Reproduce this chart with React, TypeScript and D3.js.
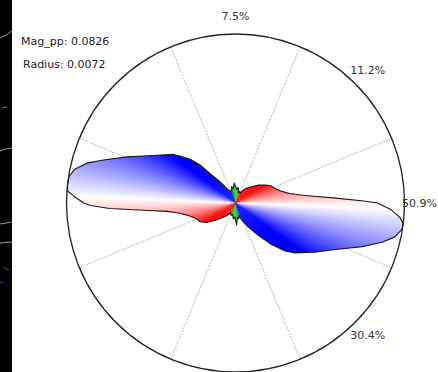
import React from 'react';
import * as d3 from 'd3';

// Polar outline: orientation angle (deg, counter-clockwise from +x) and radius (% of max)
const angleDeg = [0, 1, 3, 5, 7, 10, 14, 20, 25, 31, 38, 45, 52, 59, 65, 70, 74, 80, 84, 90, 94, 98, 103, 108, 113, 119, 126, 131, 133, 136, 140, 142, 150, 157, 162, 165, 168, 171, 174, 176, 177.5, 180, 181, 182.5, 184.5, 187, 190, 194, 202, 208, 214, 222, 235, 243, 250, 256, 262, 266, 270, 273, 277, 282, 286, 290, 298, 305, 311, 316, 320, 328, 335, 341, 345, 348, 351, 353, 355, 357.5];
const radiusPct = [84.0, 74.6, 58.0, 46.2, 39.1, 32.5, 28.4, 24.9, 23.7, 20.7, 17.2, 13.6, 11.2, 8.9, 6.5, 7.4, 6.2, 9.5, 8.0, 10.0, 11.8, 8.6, 10.0, 7.6, 7.7, 8.9, 15.4, 23.1, 30.8, 37.3, 43.2, 46.7, 56.2, 69.8, 82.2, 91.1, 97.0, 99.8, 100.0, 99.5, 95.9, 89.9, 85.8, 74.6, 54.4, 40.8, 34.3, 29.6, 24.9, 23.7, 20.7, 14.8, 9.2, 6.5, 7.7, 7.0, 9.5, 8.2, 10.0, 13.0, 8.8, 9.5, 7.7, 10.7, 16.0, 23.1, 32.5, 40.8, 45.9, 55.0, 65.1, 79.3, 89.9, 96.4, 99.7, 100.0, 97.6, 92.3];

// Sector percentage labels
const sectorAngles = [90, 45, 0, -45];
const sectorLabels = ['7.5%', '11.2%', '50.9%', '30.4%'];

// Dotted radial grid directions
const gridAngles = [22.5, 67.5, 112.5, 157.5, 202.5, 247.5, 292.5, 337.5];

const infoLines = ['Mag_pp: 0.0826', 'Radius: 0.0072'];

const whiteAxis = -2; // orientation mapped to white

const W = 438;
const H = 372;

function orientColor(theta: number): string {
  const phi = (((theta - whiteAxis) % 180) + 180) % 180;
  const redSide = phi < 90;
  const d = redSide ? phi : 180 - phi;
  const t = Math.pow(Math.min(1, d / 34), 0.9);
  let c = d3.interpolateRgb('#ffffff', redSide ? '#ff0000' : '#0000ff')(t);
  const g = Math.max(0, Math.min(1, (d - 62) / 20));
  if (g > 0) c = d3.interpolateRgb(c, '#1ed21e')(g);
  return c;
}

export default function App() {
  const cx = 235.5;
  const cy = 203;
  const R = 169;
  const rScale = d3.scaleLinear().domain([0, 100]).range([0, R]);
  const toRad = (deg: number) => ((90 - deg) * Math.PI) / 180;

  const pts = angleDeg.map((a, i) => ({ a, v: radiusPct[i] }));
  const shapePath =
    d3
      .lineRadial<{ a: number; v: number }>()
      .angle((d) => toRad(d.a))
      .radius((d) => rScale(d.v))
      .curve(d3.curveLinearClosed)(pts) || '';

  const arcGen = d3.arc<any>();
  const wedges = d3.range(0, 360, 1).map((k) => ({
    d: arcGen({
      innerRadius: 0,
      outerRadius: R + 4,
      startAngle: toRad(k + 1.4),
      endAngle: toRad(k - 0.4),
    }) as string,
    fill: orientColor(k + 0.5),
  }));

  const strip = [
    { d: 'M0,38 L6,35 L12,31', c: '#d9a5a5' },
    { d: 'M2,108 L7,107', c: '#aaaaaa' },
    { d: 'M0,151 L6,149 L12,148', c: '#bbbbbb' },
    { d: 'M0,224 L12,222', c: '#d8c0c0' },
    { d: 'M0,243 L12,242', c: '#cccccc' },
    { d: 'M3,267 L9,270', c: '#3b8f3b' },
    { d: 'M0,282 L4,283', c: '#3347d6' },
  ];

  return (
    <svg
      width={W}
      height={H}
      style={{ position: 'absolute', left: 0, top: 0, background: '#ffffff' }}
      fontFamily="DejaVu Sans, sans-serif"
    >
      <rect x={0} y={0} width={W} height={H} fill="#ffffff" />
      <rect x={0} y={0} width={12} height={H} fill="#000000" />
      {strip.map((s, i) => (
        <path key={i} d={s.d} stroke={s.c} strokeWidth={0.8} fill="none" />
      ))}
      {infoLines.map((t, i) => (
        <text key={t} x={i === 0 ? 21 : 23} y={45 + i * 23} fontSize={11} fill="#222">
          {t}
        </text>
      ))}
      <g transform={`translate(${cx},${cy})`}>
        <defs>
          <clipPath id="shapeClip">
            <path d={shapePath} />
          </clipPath>
        </defs>
        {gridAngles.map((a) => (
          <line
            key={'g' + a}
            x1={0}
            y1={0}
            x2={rScale(100) * Math.cos((a * Math.PI) / 180)}
            y2={-rScale(100) * Math.sin((a * Math.PI) / 180)}
            stroke="#b0b0b0"
            strokeWidth={0.7}
            strokeDasharray="2,1.2"
          />
        ))}
        <g clipPath="url(#shapeClip)">
          {wedges.map((w, i) => (
            <path key={i} d={w.d} fill={w.fill} />
          ))}
        </g>
        {gridAngles.map((a) => (
          <line
            key={'o' + a}
            x1={0}
            y1={0}
            x2={rScale(100) * Math.cos((a * Math.PI) / 180)}
            y2={-rScale(100) * Math.sin((a * Math.PI) / 180)}
            stroke="rgba(90,90,90,0.2)"
            strokeWidth={0.7}
            strokeDasharray="2,1.2"
          />
        ))}
        <path d={shapePath} fill="none" stroke="#1a1a1a" strokeWidth={1.1} strokeLinejoin="round" />
        <circle cx={0} cy={0} r={rScale(100)} fill="none" stroke="#222" strokeWidth={1.3} />
        {sectorAngles.map((a, i) => (
          <text
            key={sectorLabels[i]}
            x={a === 0 ? W - 1 - cx : 187 * Math.cos((a * Math.PI) / 180)}
            y={-187 * Math.sin((a * Math.PI) / 180)}
            fontSize={11}
            fill="#333"
            textAnchor={a === 0 ? 'end' : 'middle'}
            dominantBaseline="central"
          >
            {sectorLabels[i]}
          </text>
        ))}
      </g>
    </svg>
  );
}
